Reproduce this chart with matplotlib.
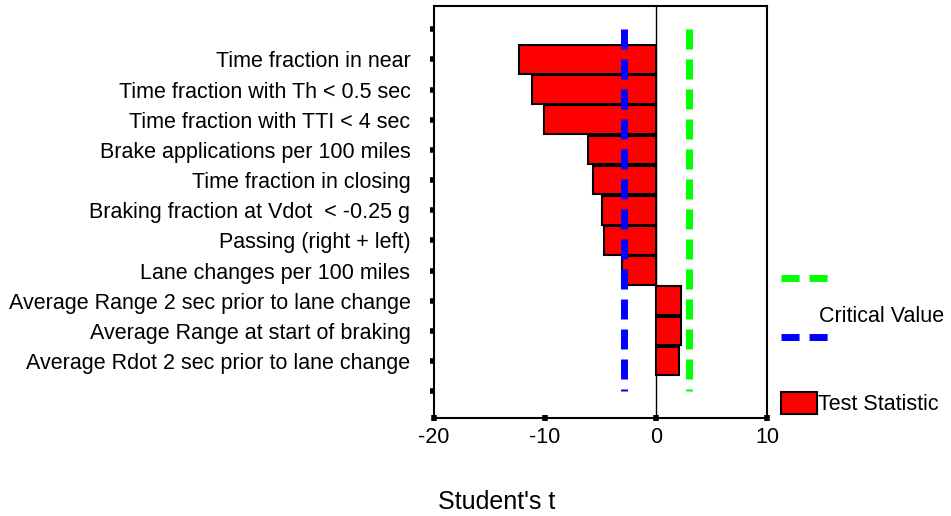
import matplotlib.pyplot as plt
from matplotlib.patches import Rectangle
from matplotlib.lines import Line2D

plt.rcParams['font.family'] = ['Liberation Sans', 'DejaVu Sans']
plt.rcParams['lines.scale_dashes'] = False
plt.rcParams['axes.unicode_minus'] = False

labels = ["Time fraction in near",
          "Time fraction with Th < 0.5 sec",
          "Time fraction with TTI < 4 sec",
          "Brake applications per 100 miles",
          "Time fraction in closing",
          "Braking fraction at Vdot  < -0.25 g",
          "Passing (right + left)",
          "Lane changes per 100 miles",
          "Average Range 2 sec prior to lane change",
          "Average Range at start of braking",
          "Average Rdot 2 sec prior to lane change"]
t_stat = [-12.3, -11.15, -10.05, -6.15, -5.65, -4.85, -4.7, -3.05, 2.3, 2.3, 2.1]
crit_low = -2.86
crit_high = 2.97

fs = 15.5

fig = plt.figure(figsize=(9.51, 5.16), dpi=100)
ax = fig.add_axes([0.4564, 0.19, 0.35, 0.799])

pos = list(range(1, len(labels) + 1))
ax.barh(pos, t_stat, height=0.95, color='#ff0000', edgecolor='black', linewidth=1.5, zorder=2)
ax.axvline(0, color='black', linewidth=1, zorder=1)

dash = (0, (14.4, 7.2))
ax.plot([crit_low, crit_low], [0, 12], color='#0000ff', linewidth=5, linestyle=dash,
        dash_capstyle='butt', zorder=3)
ax.plot([crit_high, crit_high], [0, 12], color='#00ff00', linewidth=5, linestyle=dash,
        dash_capstyle='butt', zorder=3)

ax.set_xlim(-20, 10)
ax.set_ylim(12.885, -0.78)
ax.set_xticks([-20, -10, 0, 10])
ax.set_yticks(range(0, 13))
ax.set_yticklabels([""] + labels + [""])
ax.tick_params(axis='y', length=3, width=4, pad=14, labelsize=fs)
ax.tick_params(axis='x', direction='inout', length=5, width=4, pad=4, labelsize=fs)
for s in ax.spines.values():
    s.set_linewidth(1.5)

fig.text(0.522, 0.027, "Student's t", fontsize=18, ha='center', va='center')

# legend drawn by hand to match layout
leg_dash = (0, (13, 7.2))
fig.add_artist(Line2D([781 / 951, 828 / 951], [1 - 278 / 516] * 2, color='#00ff00',
                      linewidth=5, linestyle=leg_dash, dash_capstyle='butt'))
fig.add_artist(Line2D([781 / 951, 828 / 951], [1 - 337 / 516] * 2, color='#0000ff',
                      linewidth=5, linestyle=leg_dash, dash_capstyle='butt'))
fig.text(819 / 951, 1 - 317 / 516, "Critical Value", fontsize=fs, va='center')
fig.add_artist(Rectangle((781 / 951, 1 - 414 / 516), 36 / 951, 22 / 516,
                         facecolor='#ff0000', edgecolor='black', linewidth=1.5,
                         transform=fig.transFigure))
fig.text(818 / 951, 1 - 404 / 516, "Test Statistic", fontsize=fs, va='center')

fig.savefig('out.png', dpi=100)
